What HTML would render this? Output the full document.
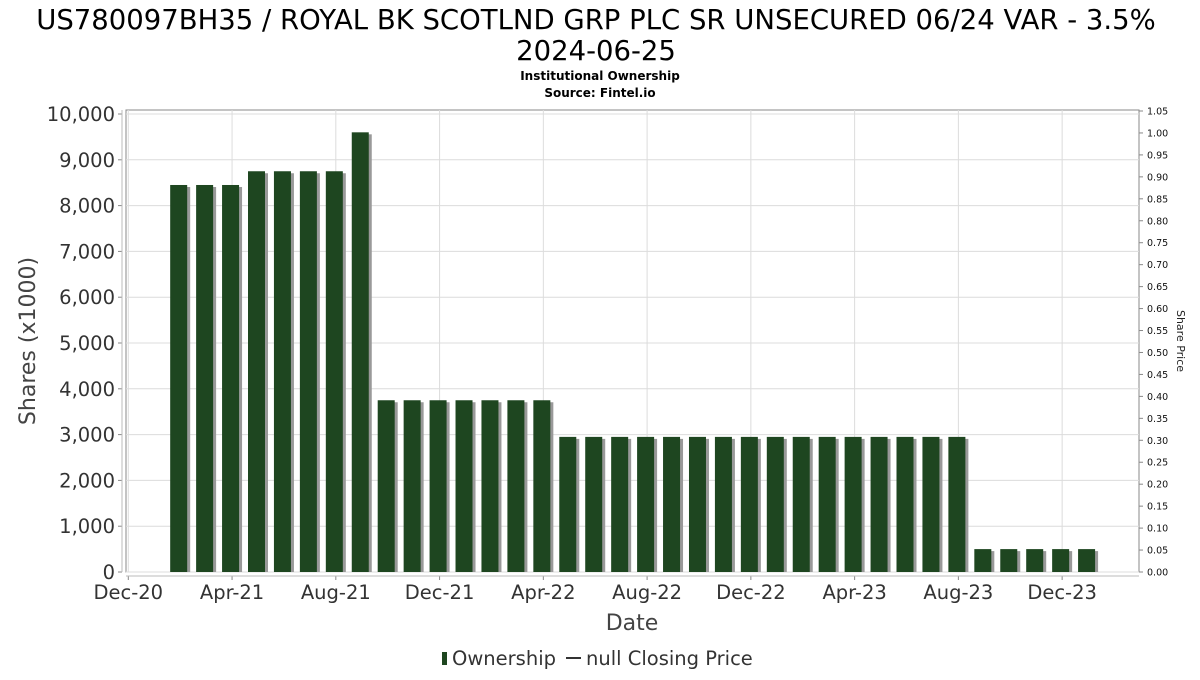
<!DOCTYPE html>
<html><head><meta charset="utf-8"><style>
body{margin:0;background:#fff;}
svg text{font-family:"DejaVu Sans","Liberation Sans",sans-serif;}
</style></head><body>
<svg id="c" width="1200" height="675" xmlns="http://www.w3.org/2000/svg">
<text x="596" y="29" font-size="27.5" text-anchor="middle" fill="#000">US780097BH35 / ROYAL BK SCOTLND GRP PLC SR UNSECURED 06/24 VAR - 3.5%</text>
<text x="596" y="60" font-size="27.5" text-anchor="middle" fill="#000">2024-06-25</text>
<text x="600" y="80" font-size="12" font-weight="bold" text-anchor="middle">Institutional Ownership</text>
<text x="600" y="97" font-size="12" font-weight="bold" text-anchor="middle">Source: Fintel.io</text>
<rect x="126" y="110" width="1013" height="462" fill="#fff" stroke="#888"/>
<g id="grid"></g><g id="bars"></g><g id="axes"></g>
<text transform="translate(35,341) rotate(-90)" font-size="22" text-anchor="middle" fill="#444">Shares (x1000)</text>
<text x="632" y="630" font-size="22" text-anchor="middle" fill="#444">Date</text>
<text transform="translate(1177,341) rotate(90)" font-size="11" text-anchor="middle" fill="#222">Share Price</text>
<g>
<rect x="442" y="652" width="5" height="13" fill="#1e4620"/>
<text x="452" y="665" font-size="19.5" fill="#333">Ownership</text>
<line x1="566" y1="658" x2="581" y2="658" stroke="#333" stroke-width="2"/>
<text x="586" y="665" font-size="19.5" fill="#333">null Closing Price</text>
</g>
</svg>
<script>
const months=[2,3,4,5,6,7,8,9,10,11,12,13,14,15,16,17,18,19,20,21,22,23,24,25,26,27,28,29,30,31,32,33,34,35,36,37];
const shares=[8450,8450,8450,8750,8750,8750,8750,9600,3750,3750,3750,3750,3750,3750,3750,2950,2950,2950,2950,2950,2950,2950,2950,2950,2950,2950,2950,2950,2950,2950,2950,500,500,500,500,500];
const yTicks=[0,1000,2000,3000,4000,5000,6000,7000,8000,9000,10000];
const xTickLabels=["Dec-20","Apr-21","Aug-21","Dec-21","Apr-22","Aug-22","Dec-22","Apr-23","Aug-23","Dec-23"];
const xTickMonths=[0,4,8,12,16,20,24,28,32,36];
const priceTicks=[0,0.05,0.1,0.15,0.2,0.25,0.3,0.35,0.4,0.45,0.5,0.55,0.6,0.65,0.7,0.75,0.8,0.85,0.9,0.95,1.0,1.05];
const NS="http://www.w3.org/2000/svg";
const X=m=>128.3+m*25.94;
const Y=v=>572-v*0.0458;
const P=v=>572-v*(461/1.05);
function mk(tag,at,parent){const e=document.createElementNS(NS,tag);for(const k in at)e.setAttribute(k,at[k]);document.getElementById(parent).appendChild(e);return e;}
yTicks.forEach(v=>{
 const g=mk('line',{x1:126,x2:1139,y1:Y(v),y2:Y(v),stroke:'#dcdcdc'},'grid');
 
 
 const t=mk('line',{x1:118,x2:122,y1:Y(v),y2:Y(v),stroke:'#888'},'axes');
 
 
 const l=mk('text',{x:115,y:Y(v)+7,'font-size':19.5,'text-anchor':'end',fill:'#333'},'axes');
 l.textContent=v.toLocaleString('en-US');
 
 
});
xTickMonths.forEach((m,i)=>{
 const g=mk('line',{x1:X(m),x2:X(m),y1:110,y2:572,stroke:'#dcdcdc'},'grid');
 
 
 const t=mk('line',{x1:X(m),x2:X(m),y1:576,y2:580,stroke:'#888'},'axes');
 
 
 const l=mk('text',{x:X(m),y:599,'font-size':19.5,'text-anchor':'middle',fill:'#333'},'axes');
 l.textContent=xTickLabels[i];
 
 
});
priceTicks.forEach(v=>{
 const t=mk('line',{x1:1139,x2:1143,y1:P(v),y2:P(v),stroke:'#888'},'axes');
 
 
 const l=mk('text',{x:1147,y:P(v)+3.5,'font-size':9.5,fill:'#111'},'axes');
 l.textContent=v.toFixed(2);
 
 
});
const la=mk('line',{x1:122,x2:122,y1:110,y2:572,stroke:'#bbb'},'axes');


const xa=mk('line',{x1:126,x2:1139,y1:576,y2:576,stroke:'#bbb'},'axes');


months.forEach((m,i)=>{
 const cx=X(m)-1.5, y=Y(shares[i]);
 const s=mk('rect',{x:cx-8.5+3,y:y+2,width:17,height:572-y-2,fill:'#999'},'bars');
 
 
 const b=mk('rect',{x:cx-8.5,y:y,width:17,height:572-y,fill:'#1e4620'},'bars');
 
 
});
</script>
</body></html>
